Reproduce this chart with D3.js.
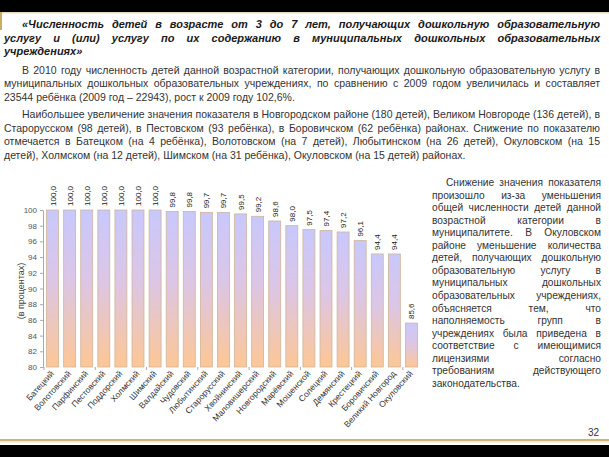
<!DOCTYPE html>
<html>
<head>
<meta charset="utf-8">
<script src="https://cdn.jsdelivr.net/npm/d3@7"></script>
<style>
  html, body { margin: 0; padding: 0; background: #fff; }
  svg { display: block; font-family: "Liberation Sans", Arial, sans-serif; }
</style>
</head>
<body>
<svg id="chart" width="609" height="457"></svg>
<script>
// data
var districts = ["Батецкий", "Волотовский", "Парфинский", "Пестовский", "Поддорский",
  "Холмский", "Шимский", "Валдайский", "Чудовский", "Любытинский", "Старорусский",
  "Хвойнинский", "Маловишерский", "Новгородский", "Марёвский", "Мошенской",
  "Солецкий", "Демянский", "Крестецкий", "Боровичский", "Великий Новгород", "Окуловский"];
var percents = [100.0, 100.0, 100.0, 100.0, 100.0, 100.0, 100.0, 99.8, 99.8, 99.7, 99.7,
  99.5, 99.2, 98.6, 98.0, 97.5, 97.4, 97.2, 96.1, 94.4, 94.4, 85.6];
var yTicks = [80, 82, 84, 86, 88, 90, 92, 94, 96, 98, 100];

var titleLines = [
  "«Численность детей в возрасте от 3 до 7 лет, получающих дошкольную образовательную",
  "услугу и (или) услугу по их содержанию в муниципальных дошкольных образовательных",
  "учреждениях»"
];
var para1 = [
  "В 2010 году численность детей данной возрастной категории, получающих дошкольную образовательную услугу в",
  "муниципальных дошкольных образовательных учреждениях, по сравнению с 2009 годом увеличилась и составляет",
  "23544 ребёнка (2009 год – 22943), рост к 2009 году 102,6%."
];
var para2 = [
  "Наибольшее увеличение значения показателя в Новгородском районе (180 детей), Великом Новгороде (136 детей), в",
  "Старорусском (98 детей), в Пестовском (93 ребёнка), в Боровичском (62 ребёнка) районах. Снижение по показателю",
  "отмечается в Батецком (на 4 ребёнка), Волотовском (на 7 детей), Любытинском (на 26 детей), Окуловском (на 15",
  "детей), Холмском (на 12 детей), Шимском (на 31 ребёнка), Окуловском (на 15 детей) районах."
];
var sideNote = [
  "Снижение значения показателя",
  "произошло из-за уменьшения",
  "общей численности детей данной",
  "возрастной категории в",
  "муниципалитете. В Окуловском",
  "районе уменьшение количества",
  "детей, получающих дошкольную",
  "образовательную услугу в",
  "муниципальных дошкольных",
  "образовательных учреждениях,",
  "объясняется тем, что",
  "наполняемость групп в",
  "учреждениях была приведена в",
  "соответствие с имеющимися",
  "лицензиями согласно",
  "требованиям действующего",
  "законодательства."
];

var svg = d3.select("#chart");

// frame of the slide
svg.append("rect").attr("x", 0).attr("y", 0).attr("width", 609).attr("height", 12).attr("fill", "#000");
svg.append("rect").attr("x", 0).attr("y", 445).attr("width", 609).attr("height", 12).attr("fill", "#000");
svg.append("rect").attr("x", 0).attr("y", 12).attr("width", 609).attr("height", 1.5).attr("fill", "#e6dcc0");
svg.append("rect").attr("x", 0).attr("y", 12).attr("width", 2).attr("height", 18).attr("fill", "#c9ae62");
svg.append("rect").attr("x", 0).attr("y", 439).attr("width", 609).attr("height", 2).attr("fill", "#cdb577");
svg.append("rect").attr("x", 0).attr("y", 441).attr("width", 609).attr("height", 1.5).attr("fill", "#efe6cc");

// write one line of text, spreading the words to fill x0..x1 when justify is set
function writeLine(node, str, x0, x1, y, justify, style) {
  var words = str.split(" ");
  var g = node.append("g");
  var items = words.map(function (w) {
    var t = g.append("text").attr("y", y).text(w);
    for (var k in style) t.style(k, style[k]);
    return t;
  });
  var widths = items.map(function (t) { return t.node().getComputedTextLength(); });
  var space = g.append("text").text("\u00a0");
  for (var k in style) space.style(k, style[k]);
  var sw = space.node().getComputedTextLength();
  space.remove();
  var gap = sw;
  if (justify && words.length > 1) {
    gap = Math.max(sw * 0.6, (x1 - x0 - d3.sum(widths)) / (words.length - 1));
  }
  var x = x0;
  items.forEach(function (t, i) {
    t.attr("x", x);
    x += widths[i] + gap;
  });
}

var titleStyle = { "font-size": "11px", "font-weight": "bold", "font-style": "italic", "fill": "#1a1a1a" };
var bodyStyle = { "font-size": "10.5px", "fill": "#333" };
var noteStyle = { "font-size": "10.2px", "fill": "#333" };

titleLines.forEach(function (s, i) {
  writeLine(svg, s, i === 0 ? 22 : 4, 600, 28 + i * 13.6, i < 2, titleStyle);
});
para1.forEach(function (s, i) {
  writeLine(svg, s, i === 0 ? 22 : 4, 600, 73.5 + i * 13.5, i < 2, bodyStyle);
});
para2.forEach(function (s, i) {
  writeLine(svg, s, i === 0 ? 22 : 4, 600, 118 + i * 13.5, i < 3, bodyStyle);
});
sideNote.forEach(function (s, i) {
  writeLine(svg, s, i === 0 ? 446 : 432, 601, 186 + i * 12.55, i < sideNote.length - 1, noteStyle);
});

svg.append("text").attr("x", 599).attr("y", 436).attr("text-anchor", "end")
  .style("font-size", "10px").style("fill", "#333").text("32");

// ---- bar chart ----
var x = d3.scaleBand().domain(districts).range([44, 420]).paddingInner(0.3).paddingOuter(0.15);
var y = d3.scaleLinear().domain([80, 100]).range([367, 210]);

var defs = svg.append("defs");
var grad = defs.append("linearGradient").attr("id", "barFill")
  .attr("x1", 0).attr("y1", 0).attr("x2", 0).attr("y2", 1);
grad.append("stop").attr("offset", "0%").attr("stop-color", "#c8c8fc");
grad.append("stop").attr("offset", "45%").attr("stop-color", "#dcc6e6");
grad.append("stop").attr("offset", "100%").attr("stop-color", "#fdc795");

var chart = svg.append("g");

chart.selectAll("rect.bar")
  .data(percents)
  .enter().append("rect")
  .attr("class", "bar")
  .attr("x", function (d, i) { return x(districts[i]); })
  .attr("y", function (d) { return y(d); })
  .attr("width", x.bandwidth())
  .attr("height", function (d) { return y(80) - y(d); })
  .attr("fill", "url(#barFill)")
  .attr("stroke", "#cfb49a")
  .attr("stroke-width", 0.8);

// value labels, rotated
chart.selectAll("text.val")
  .data(percents)
  .enter().append("text")
  .attr("class", "val")
  .attr("transform", function (d, i) {
    return "translate(" + (x(districts[i]) + x.bandwidth() / 2 + 3) + "," + (y(d) - 4) + ") rotate(-90)";
  })
  .style("font-size", "8px")
  .style("fill", "#222")
  .text(function (d) { return d3.format(".1f")(d).replace(".", ","); });

// y axis
var yAxis = d3.axisLeft(y).tickValues(yTicks).tickSize(3).tickFormat(d3.format("d"));
var ya = chart.append("g").attr("transform", "translate(43,0)").call(yAxis);
ya.select(".domain").attr("stroke", "#aaa");
ya.selectAll(".tick line").attr("stroke", "#aaa");
ya.selectAll(".tick text").style("font-size", "8px").style("fill", "#555")
  .style("font-family", "'Liberation Sans', Arial, sans-serif");

chart.append("text")
  .attr("transform", "translate(24,291) rotate(-90)")
  .attr("text-anchor", "middle")
  .style("font-size", "9px").style("fill", "#444")
  .text("(в процентах)");

// small ticks under the bars, every third category
var tickX = d3.range(0, districts.length + 1, 3).map(function (k) {
  return x.range()[0] + x.step() * (x.paddingOuter() + k) - x.step() * x.paddingInner() / 2;
});
chart.selectAll("line.xt")
  .data(tickX)
  .enter().append("line")
  .attr("class", "xt")
  .attr("x1", function (d) { return d; }).attr("x2", function (d) { return d; })
  .attr("y1", 367).attr("y2", 370)
  .attr("stroke", "#aaa");

// category labels, rotated
chart.selectAll("text.cat")
  .data(districts)
  .enter().append("text")
  .attr("class", "cat")
  .attr("text-anchor", "end")
  .attr("transform", function (d) {
    return "translate(" + (x(d) + x.bandwidth() / 2 + 2) + ",374) rotate(-48)";
  })
  .style("font-size", "8.5px")
  .style("fill", "#333")
  .text(function (d) { return d; });
</script>
</body>
</html>
